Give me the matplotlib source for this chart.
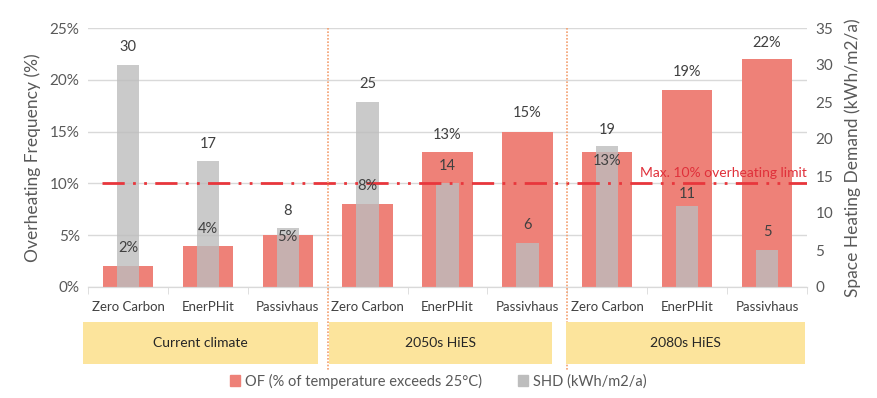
import matplotlib
matplotlib.use("Agg")
import matplotlib.pyplot as plt
from matplotlib.patches import Rectangle
from matplotlib.font_manager import fontManager

categories = ["Zero Carbon", "EnerPHit", "Passivhaus"] * 3
groups = ["Current climate", "2050s HiES", "2080s HiES"]
of_values = [2, 4, 5, 8, 13, 15, 13, 19, 22]          # % overheating frequency
shd_values = [30, 17, 8, 25, 14, 6, 19, 11, 5]        # kWh/m2/a
limit_value = 10
left_ticks = [0, 5, 10, 15, 20, 25]
right_ticks = [0, 5, 10, 15, 20, 25, 30, 35]

# label vertical offsets in pixels (style)
of_label_dy = [18, 17, -2, 18, 17, 19, -9, 18, 16]
shd_label_dy = [18, 17, 17, 18, 17, 18, 16, 12, 18]

names = {f.name for f in fontManager.ttflist}
FONT = ["Lato", "DejaVu Sans"]
NARROW = (["Liberation Sans Narrow"] if "Liberation Sans Narrow" in names else []) + ["Lato", "DejaVu Sans"]
plt.rcParams["font.family"] = FONT

RED = "#EE8178"
GRAY = "#BDBDBD"
TXT = "#404040"
AX = "#595959"

fig = plt.figure(figsize=(8.78, 3.98), dpi=100)
L, R, B, T = 88 / 878, 807 / 878, 1 - 287 / 398, 1 - 28 / 398
ax = fig.add_axes([L, B, R - L, T - B])
ax2 = ax.twinx()

x = list(range(len(categories)))
ax.bar(x, of_values, width=0.63, color=RED, zorder=2)
ax2.bar(x, shd_values, width=0.28, color=GRAY, alpha=0.8, zorder=3)

ax.set_xlim(-0.5, len(categories) - 0.5)
ax.set_ylim(0, 25)
ax2.set_ylim(0, 35)
ax.set_yticks(left_ticks)
ax.set_yticklabels([f"{v}%" for v in left_ticks])
ax2.set_yticks(right_ticks)
ax.grid(axis="y", color="#D9D9D9", lw=1, zorder=0)
ax.set_axisbelow(True)

for a in (ax, ax2):
    for s in ["top", "left", "right"]:
        a.spines[s].set_visible(False)
    a.spines["bottom"].set_color("#D9D9D9")
    a.tick_params(axis="y", length=0, labelsize=11, labelcolor=AX, pad=6)

ax.set_xticks(x)
ax.set_xticklabels(categories, fontsize=9.5, color=TXT, family=NARROW)
ax.tick_params(axis="x", length=0, pad=10)
ax.set_xticks([i + 0.5 for i in x[:-1]] + [-0.5, len(x) - 0.5], minor=True)
ax.tick_params(axis="x", which="minor", length=5, color="#D9D9D9")

ax.set_ylabel("Overheating Frequency (%)", fontsize=12.5, color=AX, labelpad=6)
ax2.set_ylabel("Space Heating Demand (kWh/m2/a)", fontsize=12.5, color=AX, labelpad=8)

# limit line (drawn on top axes using left-axis data coordinates)
ax2.plot([-0.33, len(x) - 0.5], [limit_value, limit_value], transform=ax.transData,
         color="#E8363C", lw=2, dashes=(8, 3, 1, 3, 1, 3), zorder=4)
ax2.text(len(x) - 0.5, limit_value + 0.4, "Max. 10% overheating limit",
         transform=ax.transData, color="#E0303A", fontsize=10,
         ha="right", va="bottom", zorder=6)

# data labels
for i in x:
    ax2.annotate(f"{of_values[i]}%", (i, of_values[i]), xycoords=ax.transData,
                 xytext=(0, of_label_dy[i] * 0.72), textcoords="offset points",
                 ha="center", va="center", fontsize=10.5, color=TXT, zorder=6)
    ax2.annotate(f"{shd_values[i]}", (i, shd_values[i]),
                 xytext=(0, shd_label_dy[i] * 0.72), textcoords="offset points",
                 ha="center", va="center", fontsize=10.5, color=TXT, zorder=6)

# group separators
for sx in (2.5, 5.5):
    ax2.plot([sx, sx], [1.0, -0.32], transform=ax.get_xaxis_transform(),
             color="#F4A070", lw=1.2, ls=(0, (1, 1)), clip_on=False, zorder=5)

# group boxes
box_px = [(83, 318), (329, 552), (566, 805)]
for (x0, x1), g in zip(box_px, groups):
    fig.patches.append(Rectangle((x0 / 878, 1 - 364 / 398), (x1 - x0) / 878, 42 / 398,
                                 transform=fig.transFigure, facecolor="#FCE49C",
                                 edgecolor="none", zorder=0))
    fig.text((x0 + x1) / 2 / 878, 1 - 343 / 398, g, ha="center", va="center",
             fontsize=10, color="#262626", family=NARROW)

handles = [Rectangle((0, 0), 1, 1, color=RED), Rectangle((0, 0), 1, 1, color=GRAY)]
fig.legend(handles, ["OF (% of temperature exceeds 25°C)", "SHD (kWh/m2/a)"],
           loc="center", bbox_to_anchor=(0.499, 1 - 381 / 398), ncol=2, frameon=False,
           handlelength=0.7, handleheight=0.7, handletextpad=0.3,
           columnspacing=2.5, labelcolor=AX, prop={"family": NARROW, "size": 10.5})

fig.savefig("out.png", dpi=100)
